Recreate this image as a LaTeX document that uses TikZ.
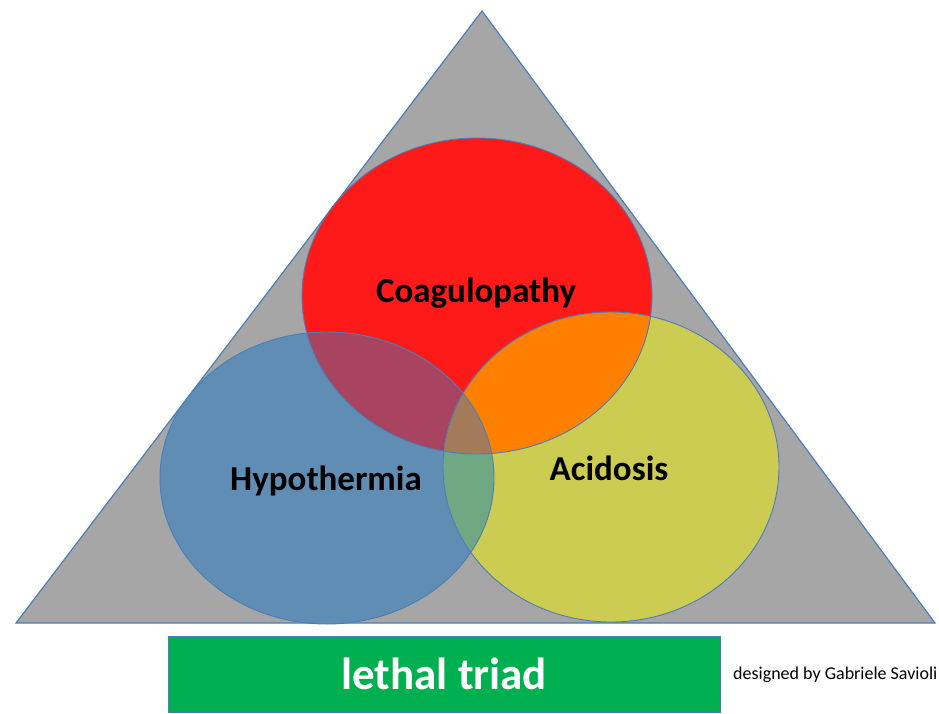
\documentclass[tikz,border=0pt]{standalone}
\usepackage{fontspec}
\setmainfont{Carlito}
\definecolor{cgray}{HTML}{A6A6A6}
\definecolor{cedge}{HTML}{4A7EBB}
\definecolor{cred}{HTML}{FF1A1A}
\definecolor{cblue}{HTML}{5F8DB4}
\definecolor{cyel}{HTML}{CCCC52}
\definecolor{crb}{HTML}{A8445F}
\definecolor{cry}{HTML}{FF8000}
\definecolor{cby}{HTML}{6FA882}
\definecolor{crby}{HTML}{A37B5B}
\definecolor{cgreen}{HTML}{00B050}
\begin{document}
\begin{tikzpicture}[x=1pt,y=-1pt,
  ellR/.style={insert path={(R) ellipse [x radius=175, y radius=158]}},
  ellB/.style={insert path={(B) ellipse [x radius=167, y radius=146]}},
  ellY/.style={insert path={(Y) ellipse [x radius=168, y radius=155]}},
  edge/.style={draw=cedge, line width=0.9pt},
  lab/.style={font=\bfseries\fontsize{35}{40}\selectfont, text=black}]
\useasboundingbox (0,0) rectangle (939,713);
\fill[white] (0,0) rectangle (939,713);
\coordinate (T1) at (482,11);
\coordinate (T2) at (16,623);
\coordinate (T3) at (935,623);
\coordinate (R) at (477,296);
\coordinate (B) at (327,478);
\coordinate (Y) at (611,467);
\draw[fill=cgray, draw=cedge, line width=1.2pt, line join=miter] (T1) -- (T2) -- (T3) -- cycle;
\fill[cred, ellR];
\fill[cblue, ellB];
\fill[cyel, ellY];
\begin{scope}\clip[ellR]; \fill[crb, ellB]; \end{scope}
\begin{scope}\clip[ellR]; \fill[cry, ellY]; \end{scope}
\begin{scope}\clip[ellB]; \fill[cby, ellY]; \end{scope}
\begin{scope}\clip[ellR]; \clip[ellB]; \fill[crby, ellY]; \end{scope}
\path[edge, ellR];
\path[edge, ellB];
\path[edge, ellY];
\node[lab] (coag) at (476,293) {Coagulopathy};
\node[lab] (hypo) at (326,481) {Hypothermia};
\node[lab] (acid) at (609,468) {Acidosis};
\node[fill=cgreen, draw=cedge, line width=0.4pt, minimum width=552pt, minimum height=76pt, inner sep=0pt, anchor=north west,
      text=white, font=\bfseries\fontsize{45}{50}\selectfont] (box) at (168,636) {lethal triad};
\node[anchor=west, font=\fontsize{18}{20}\selectfont, inner sep=0pt] (sig) at (733,675) {designed by Gabriele Savioli};
\end{tikzpicture}
\end{document}
